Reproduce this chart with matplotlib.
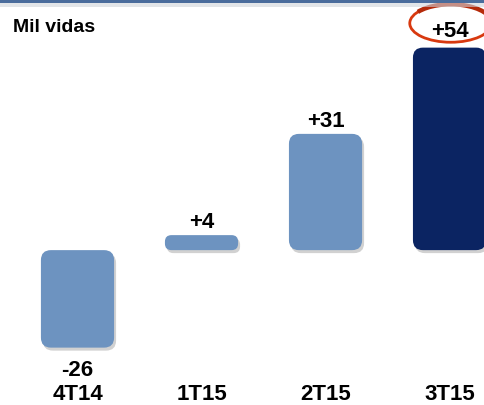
import matplotlib.pyplot as plt
from matplotlib.patches import FancyBboxPatch, Ellipse, Arc, Rectangle

plt.rcParams['font.family'] = ['Liberation Sans', 'DejaVu Sans']

quarters = ['4T14', '1T15', '2T15', '3T15']
values = [-26, 4, 31, 54]
labels = ['-26', '+4', '+31', '+54']
colors = ['#6d93c0', '#6d93c0', '#6d93c0', '#0b2462']

fig = plt.figure(figsize=(4.84, 4.05), dpi=100)
ax = fig.add_axes([0, 0, 1, 1])
ax.set_xlim(-0.625, 3.278)
ax.set_ylim(-41.3, 66.7)
ax.axis('off')

# px per data unit, used to keep the corners round
px_x = 484 / (3.278 + 0.625)
px_y = 405 / (66.7 + 41.3)
aspect = px_x / px_y

width = 0.59
bars = ax.bar(range(len(values)), values, width=width, color='none')
for bar, v, c in zip(bars, values, colors):
    x0, y0 = bar.get_x(), min(0, v)
    h = abs(v)
    r = min(10, h * px_y / 2 - 1) / px_x
    # shadow
    sh = FancyBboxPatch((x0 + 2 / px_x, y0 - 3 / px_y), width, h,
                        boxstyle='round,pad=0,rounding_size=%f' % r,
                        mutation_aspect=aspect, fc='#000000', ec='none',
                        alpha=0.18, zorder=1)
    ax.add_patch(sh)
    p = FancyBboxPatch((x0, y0), width, h,
                       boxstyle='round,pad=0,rounding_size=%f' % r,
                       mutation_aspect=aspect, fc=c, ec='none', zorder=2)
    ax.add_patch(p)

# value labels; the last one sits a bit higher inside the circle
last = len(values) - 1
for i, (v, lab) in enumerate(zip(values, labels)):
    if v >= 0:
        off = 11 if i == last else 7
        ax.text(i, v + off / px_y, lab, ha='center', va='baseline',
                fontsize=16, fontweight='bold', zorder=4)
    else:
        ax.text(i, v - 28 / px_y, lab, ha='center', va='baseline',
                fontsize=16, fontweight='bold', zorder=4)

# category labels along the bottom
for i, q in enumerate(quarters):
    ax.text(i, -41.3, q, ha='center', va='bottom',
            fontsize=16, fontweight='bold')

ax.text(13 / 484, 1 - 32 / 405, 'Mil vidas', transform=ax.transAxes,
        ha='left', va='baseline', fontsize=14, fontweight='bold')

# highlight on the last quarter
ax.add_patch(Ellipse((last + 0.01, 60.5), 82 / px_x, 38 / px_y,
                     fc='none', ec='#d8390f', lw=2.0, zorder=3))
ax.add_patch(Arc((last + 0.01, 60.5), 82 / px_x, 38 / px_y, theta1=15,
                 theta2=95, ec='#b52a0a', lw=3.2, zorder=3))

# top rule of the slide
fig.patches.append(Rectangle((0, 1 - 3 / 405), 1, 3 / 405,
                             transform=fig.transFigure, fc='#4a6c9c',
                             ec='none'))
fig.patches.append(Rectangle((0, 1 - 7 / 405), 1, 4 / 405,
                             transform=fig.transFigure, fc='#d0d4da',
                             ec='none', alpha=0.6))

fig.savefig('out.png', dpi=100)
